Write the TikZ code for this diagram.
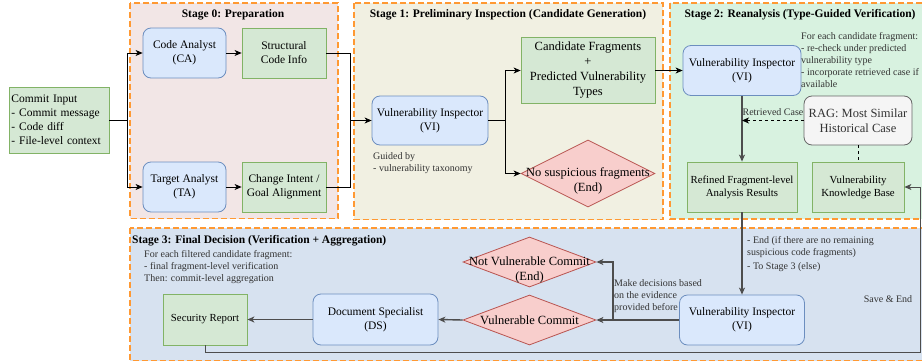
\documentclass[tikz,border=0pt]{standalone}
\usepackage{fontspec}
\setmainfont{Liberation Serif}
\usetikzlibrary{shapes.geometric,arrows.meta}
\definecolor{stzero}{HTML}{F2E6E6}
\definecolor{stone}{HTML}{F1F0E2}
\definecolor{sttwo}{HTML}{D8F2E0}
\definecolor{stthree}{HTML}{D7E2F0}
\definecolor{stborder}{HTML}{FF9933}
\definecolor{bluef}{HTML}{DAE8FC}
\definecolor{bluel}{HTML}{6C8EBF}
\definecolor{greenf}{HTML}{D5E8D4}
\definecolor{greenl}{HTML}{82B366}
\definecolor{redf}{HTML}{F8CECC}
\definecolor{redl}{HTML}{B85450}
\definecolor{grayf}{HTML}{F5F5F5}
\definecolor{grayl}{HTML}{666666}
\definecolor{txtgray}{HTML}{333333}
\definecolor{linegray}{HTML}{4D4D4D}
\newcommand\szmain{\fontsize{11.5}{14}\selectfont}
\newcommand\szbig{\fontsize{12.5}{15}\selectfont}
\newcommand\szmid{\fontsize{10.8}{13}\selectfont}
\newcommand\szsmall{\fontsize{10}{12}\selectfont}
\begin{document}
\begin{tikzpicture}[x=1pt,y=-1pt,
  stage/.style={draw=stborder, line width=1.6pt, dash pattern=on 6pt off 3pt},
  agent/.style={draw=bluel, fill=bluef, rounded corners=8pt, line width=0.8pt, align=center, font=\szmain, inner sep=2pt},
  datab/.style={draw=greenl, fill=greenf, line width=0.8pt, align=center, font=\szmain, inner sep=2pt},
  dia/.style={diamond, draw=redl, fill=redf, line width=0.8pt, inner sep=0pt},
  ragb/.style={draw=grayl, fill=grayf, rounded corners=8pt, line width=0.8pt, align=center, font=\szbig, text=txtgray},
  ttl/.style={font=\szmain\bfseries, inner sep=0pt},
  note/.style={font=\szsmall, text=txtgray, align=left, inner sep=0pt},
  plain/.style={draw=black, line width=0.8pt},
  arr/.style={draw=black, line width=0.8pt, -{Stealth[length=7pt,width=6pt,inset=2pt]}},
  gline/.style={draw=linegray, line width=1.4pt},
  garr/.style={draw=linegray, line width=1.4pt, -{Stealth[length=7pt,width=6pt,inset=2pt]}},
  darr/.style={draw=black, line width=0.8pt, dash pattern=on 3pt off 3pt, -{Stealth[length=7pt,width=6pt,inset=2pt]}},
  ]
\useasboundingbox (0,0) rectangle (922,362);
\clip (0,0) rectangle (922,362);

% stage backgrounds
\draw[stage, fill=stzero] (130,3) rectangle (338,218.5);
\draw[stage, fill=stone] (354,3) rectangle (663,219.5);
\draw[stage, fill=sttwo] (670,3) rectangle (940,219);
\draw[stage, fill=stthree] (130,228) rectangle (940,360.5);

% titles
\node[ttl] at (233,15) {Stage 0: Preparation};
\node[ttl] at (508,15) {Stage 1: Preliminary Inspection (Candidate Generation)};
\node[ttl] at (800,15) {Stage 2: Reanalysis (Type-Guided Verification)};
\node[ttl, anchor=west] at (132,241) {Stage 3: Final Decision (Verification + Aggregation)};

% nodes
\node[datab, minimum width=100pt, minimum height=66pt, text width=95pt, align=left, inner xsep=2.5pt] (cin) at (59,120) {Commit Input\\- Commit message\\- Code diff\\- File-level context};
\node[agent, minimum width=83pt, minimum height=50pt] (ca) at (184.5,53) {Code Analyst\\(CA)};
\node[datab, minimum width=84pt, minimum height=50pt] (sci) at (284,53) {Structural\\Code Info};
\node[agent, minimum width=83pt, minimum height=50pt] (ta) at (184.5,187) {Target Analyst\\(TA)};
\node[datab, minimum width=84pt, minimum height=50pt] (cig) at (284,187) {Change Intent /\\Goal Alignment};
\node[agent, minimum width=116pt, minimum height=49pt] (vi1) at (430,120.5) {Vulnerability Inspector\\(VI)};
\node[datab, font=\szbig, minimum width=134pt, minimum height=66pt] (cand) at (588,70.5) {Candidate Fragments\\+\\Predicted Vulnerability\\Types};
\node[dia, minimum width=134pt, minimum height=67pt] (nsf) at (588,173.5) {};
\node[font=\szbig, align=center, inner sep=0pt] (nsft) at (588,181) {No suspicious fragments\\(End)};
\node[agent, minimum width=118pt, minimum height=50pt] (vi2) at (742,70.5) {Vulnerability Inspector\\(VI)};
\node[ragb, minimum width=108pt, minimum height=49pt] (rag) at (858,120.5) {RAG: Most Similar\\Historical Case};
\node[datab, font=\szmid, minimum width=110pt, minimum height=50pt] (ref) at (742,187) {Refined Fragment-level\\Analysis Results};
\node[datab, font=\szmid, minimum width=92pt, minimum height=50pt] (vkb) at (858,187) {Vulnerability\\Knowledge Base};
\node[datab, font=\szmid, minimum width=84pt, minimum height=51pt] (sr) at (205,319.5) {Security Report};
\node[agent, minimum width=125pt, minimum height=51pt] (ds) at (375.5,319.5) {Document Specialist\\(DS)};
\node[dia, minimum width=133pt, minimum height=50pt] (vc) at (529.5,320) {};
\node[font=\szbig, inner sep=0pt] (vct) at (529.5,320) {Vulnerable Commit};
\node[dia, minimum width=133pt, minimum height=50pt] (nvc) at (529.5,262) {};
\node[font=\szbig, align=center, inner sep=0pt] (nvct) at (529.5,269.5) {Not Vulnerable Commit\\(End)};
\node[agent, minimum width=125pt, minimum height=50pt] (vi3) at (742,320) {Vulnerability Inspector\\(VI)};

% notes (base = baseline of last line)
\node[note, anchor=base west] (n1) at (373,171) {\fontsize{10}{12.7}\selectfont Guided by\\- vulnerability taxonomy};
\node[note, anchor=base west] (n2) at (801,87.5) {\fontsize{10}{11.8}\selectfont For each candidate fragment:\\- re-check under predicted\\vulnerability type\\- incorporate retrieved case if\\available};
\node[note, anchor=base west] (n3) at (144,281.5) {\fontsize{10}{12}\selectfont For each filtered candidate fragment:\\- final fragment-level verification\\Then: commit-level aggregation};
\node[note, anchor=base west] (n4) at (747,269) {\fontsize{10}{11}\selectfont - End (if there are no remaining\\suspicious code fragments)\\[1.4pt]- To Stage 3 (else)};
\node[note, anchor=base west] (n5) at (614,310) {\fontsize{10}{12.2}\selectfont Make decisions based\\on the evidence\\provided before};
\node[note] (n6) at (888,299) {Save \& End};
\node[note] (n7) at (773,112) {Retrieved Case};

% connectors
\coordinate (j0) at (127,120);
\draw[plain] (cin.east) -- (j0);
\draw[arr] (j0) |- (ca.west);
\draw[arr] (j0) |- (ta.west);
\draw[arr] (ca) -- (sci);
\draw[arr] (ta) -- (cig);
\coordinate (j1) at (350,120.5);
\draw[plain] (sci.east) -| (j1);
\draw[plain] (cig.east) -| (j1);
\draw[arr] (j1) -- (vi1.west);
\coordinate (j2) at (505,120.5);
\draw[plain] (vi1.east) -- (j2);
\draw[arr] (j2) |- (cand.west);
\draw[arr] (j2) |- (nsf.west);
\draw[arr] (cand.east) -- (vi2.west);
\coordinate (j3) at (742,120.5);
\draw[garr] (vi2.south) -- (ref.north);
\draw[darr] (rag.west) -- (j3);
\draw[draw=black, line width=0.8pt, dash pattern=on 3pt off 3pt] (rag.south) -- (vkb.north);
\draw[garr] (ref.south) -- (vi3.north);
\coordinate (j4) at (613,320);
\draw[gline] (vi3.west) -- (j4);
\draw[garr] (j4) -- (vc.east);
\draw[garr] (j4) |- (nvc.east);
\draw[garr] (vc.west) -- (ds.east);
\draw[garr] (ds.west) -- (sr.east);
\coordinate (j5) at (920,352);
\draw[arr, draw=linegray] (sr.south) |- (j5) |- (vkb.east);
\end{tikzpicture}
\end{document}
